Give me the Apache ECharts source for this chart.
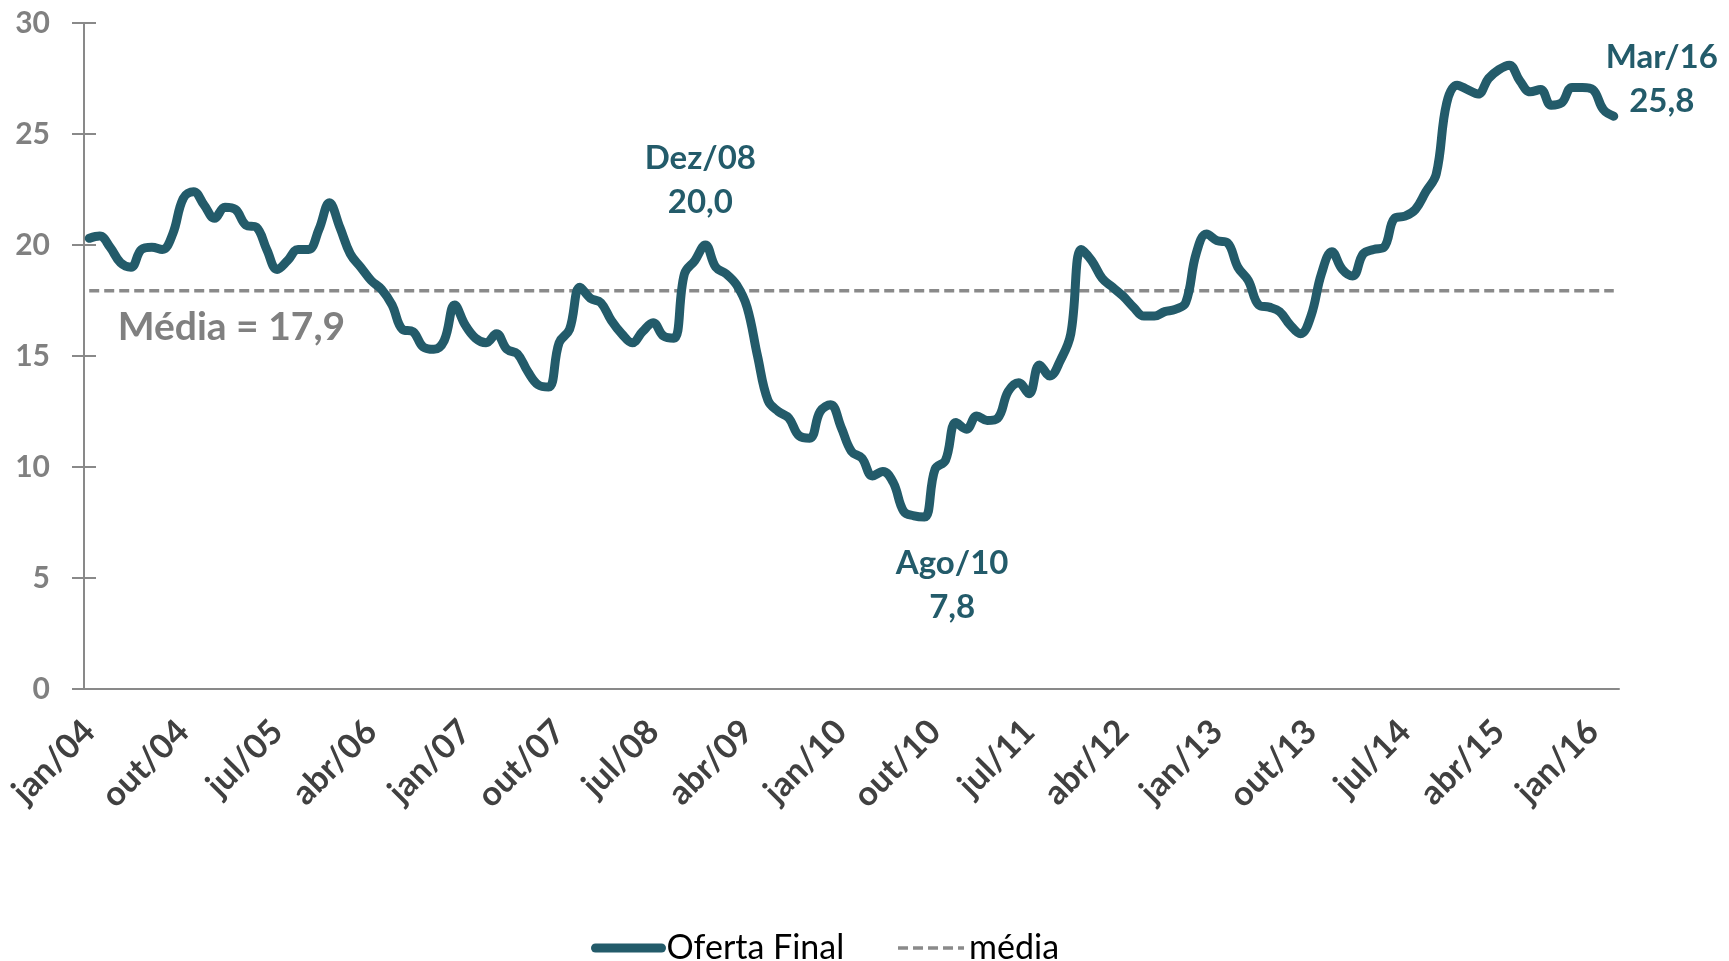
<!DOCTYPE html>
<html>
<head>
<meta charset="utf-8">
<script src="https://cdn.jsdelivr.net/npm/echarts@6/dist/echarts.min.js"></script>
<style>
  html, body { margin: 0; padding: 0; background: #fff; }
  #chart { width: 1729px; height: 961px; }
</style>
</head>
<body>
<div id="chart"></div>
<script>
// rótulos dos meses (jan/04 .. mar/16)
var meses = ['jan', 'fev', 'mar', 'abr', 'mai', 'jun', 'jul', 'ago', 'set', 'out', 'nov', 'dez'];
var anos = ['04', '05', '06', '07', '08', '09', '10', '11', '12', '13', '14', '15', '16'];

// Oferta Final, valores mensais
var ofertaFinal = [
  20.3, 20.4, 19.9, 19.2, 19.0, 19.8, 19.9, 19.8, 20.5, 22.1, 22.4, 21.8,
  21.2, 21.7, 21.6, 20.9, 20.8, 19.8, 18.9, 19.3, 19.8, 19.8, 20.7, 21.9,
  20.8, 19.6, 19.0, 18.4, 18.0, 17.3, 16.2, 16.1, 15.4, 15.3, 15.7, 17.3,
  16.4, 15.8, 15.6, 16.0, 15.3, 15.1, 14.3, 13.7, 13.6, 15.6, 16.2, 18.1,
  17.6, 17.4, 16.6, 16.0, 15.6, 16.1, 16.5, 15.9, 15.8, 18.7, 19.3, 20.0,
  19.0, 18.7, 18.2, 17.2, 15.0, 13.0, 12.5, 12.2, 11.4, 11.3, 12.5, 12.8,
  11.8, 10.7, 10.4, 9.6, 9.8, 9.3, 8.0, 7.8, 7.75, 9.9, 10.3, 12.0,
  11.7, 12.3, 12.1, 12.2, 13.4, 13.8, 13.3, 14.6, 14.1, 14.8, 16.0, 19.8,
  19.3, 18.5, 18.1, 17.7, 17.2, 16.8, 16.8, 17.0, 17.1, 17.4, 19.6, 20.5,
  20.2, 20.1, 19.0, 18.4, 17.3, 17.2, 17.0, 16.4, 16.0, 16.8, 18.7, 19.7,
  18.9, 18.6, 19.6, 19.8, 19.9, 21.2, 21.3, 21.6, 22.4, 23.2, 26.4, 27.2,
  27.0, 26.8, 27.5, 27.9, 28.1, 27.4, 26.9, 27.0, 26.3, 26.4, 27.1, 27.1,
  27.0, 26.1, 25.8
];
var mediaValor = 17.94;

// destaques
var destaques = [
  { idx: 59, texto: 'Dez/08', offset: [-5, -65] },
  { idx: 79, texto: 'Ago/10', offset: [38, 70] },
  { idx: 146, texto: 'Mar/16', offset: [48, -37] }
];

var categorias = [];
for (var a = 0; a < anos.length; a++) {
  for (var m = 0; m < 12; m++) {
    if (categorias.length < ofertaFinal.length) categorias.push(meses[m] + '/' + anos[a]);
  }
}
var media = ofertaFinal.map(function () { return mediaValor; });

function fmt(v) { return v.toFixed(1).replace('.', ','); }

var azul = '#235B6A';
var cinzaEixo = '#898989';
var fonte = 'Lato';

var chart = echarts.init(document.getElementById('chart'));
var option = {
  animation: false,
  grid: { left: 84, right: 110, top: 23, bottom: 272 },
  legend: {
    left: 586, top: 926,
    itemWidth: 66, itemHeight: 12, itemGap: 52,
    itemStyle: { opacity: 0 },
    lineStyle: { width: 'inherit' },
    textStyle: { fontFamily: fonte, fontSize: 34, color: '#000' },
    data: ['Oferta Final', 'média']
  },
  xAxis: [
    {
      type: 'category',
      data: categorias,
      boundaryGap: true,
      axisLine: { lineStyle: { color: cinzaEixo, width: 2 } },
      axisTick: { interval: 8, length: 11, lineStyle: { color: cinzaEixo, width: 2 } },
      axisLabel: {
        interval: 8, rotate: 45, margin: 37,
        fontFamily: fonte, fontSize: 34, fontWeight: 'bold', color: '#404040'
      }
    },
    {
      type: 'category',
      data: categorias,
      position: 'bottom',
      boundaryGap: true,
      axisLine: { show: false },
      axisTick: { interval: 8, inside: true, length: 11, lineStyle: { color: cinzaEixo, width: 2 } },
      axisLabel: { show: false }
    }
  ],
  yAxis: [
    {
      type: 'value', min: 0, max: 30, interval: 5,
      splitLine: { show: false },
      axisLine: { show: true, lineStyle: { color: cinzaEixo, width: 2 } },
      axisTick: { show: true, length: 12, lineStyle: { color: cinzaEixo, width: 2 } },
      axisLabel: { margin: 34, fontFamily: fonte, fontSize: 30, fontWeight: 'bold', color: '#808080' }
    },
    {
      type: 'value', min: 0, max: 30, interval: 5, position: 'left',
      splitLine: { show: false },
      axisLine: { show: false },
      axisTick: { show: true, inside: true, length: 12, lineStyle: { color: cinzaEixo, width: 2 } },
      axisLabel: { show: false }
    }
  ],
  series: [
    {
      name: 'média',
      type: 'line',
      data: media,
      symbol: 'none',
      color: '#8a8a8a',
      lineStyle: { width: 3.5, type: [10, 5], color: '#8a8a8a' },
      z: 2,
      markPoint: {
        symbol: 'circle', symbolSize: 0,
        label: {
          show: true, position: 'inside',
          fontFamily: fonte, fontSize: 39, fontWeight: 'bold', color: '#808080'
        },
        data: [{
          coord: [14, mediaValor],
          label: { formatter: 'Média = ' + fmt(Math.floor(mediaValor * 10) / 10), offset: [-4, 37] }
        }]
      }
    },
    {
      name: 'Oferta Final',
      type: 'line',
      data: ofertaFinal,
      symbol: 'none',
      smooth: 0.4,
      color: azul,
      lineStyle: { width: 9, color: azul, cap: 'round', join: 'round' },
      z: 3,
      markPoint: {
        symbol: 'circle', symbolSize: 0,
        label: {
          show: true, position: 'inside', lineHeight: 44,
          fontFamily: fonte, fontSize: 33, fontWeight: 'bold', color: azul
        },
        data: destaques.map(function (d) {
          return {
            coord: [d.idx, ofertaFinal[d.idx]],
            label: { formatter: d.texto + '\n' + fmt(ofertaFinal[d.idx]), offset: d.offset }
          };
        })
      }
    }
  ]
};
chart.setOption(option);
</script>
</body>
</html>
